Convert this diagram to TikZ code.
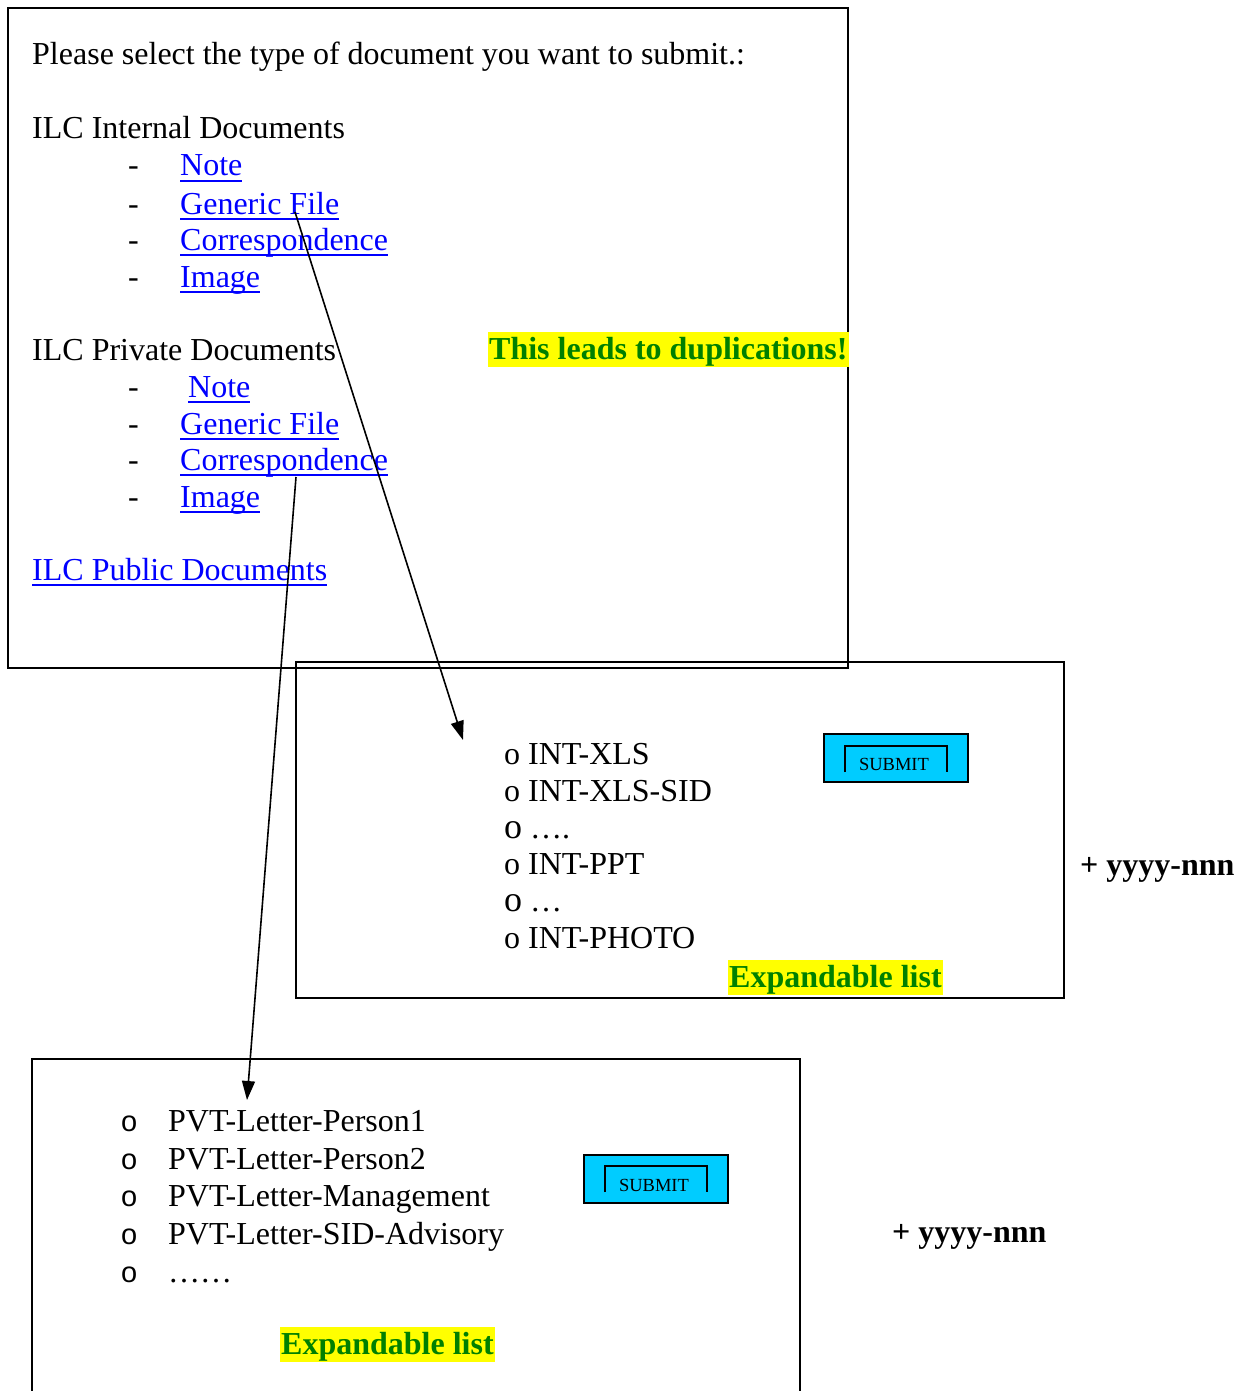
\documentclass[tikz,border=0pt]{standalone}
\usepackage{fontspec}
\setmainfont{Liberation Serif}
\newfontfamily\bulletfont{Liberation Sans}
\usepackage{tikz}
\usetikzlibrary{arrows.meta}
\tikzset{>={Triangle[width=13pt,length=19pt]}}
\definecolor{lnkblue}{RGB}{0,0,255}
\definecolor{hlgreen}{RGB}{0,128,0}
\definecolor{hlyellow}{RGB}{255,255,0}
\definecolor{btncyan}{RGB}{0,204,255}
\newcommand{\lnk}[1]{\setbox0\hbox{#1}\rlap{\rule[-6pt]{\wd0}{2pt}}\box0}

\begin{document}
\begin{tikzpicture}[x=1pt, y=-1pt]
      \tikzstyle{txt} = [anchor=base west, inner sep=0pt, yshift=-2pt, font=\fontsize{32}{37}\selectfont]
      \tikzstyle{link} = [txt, text=lnkblue]
      \tikzstyle{note} = [txt, font=\fontsize{32}{37}\selectfont\bfseries, text=hlgreen, fill=hlyellow,
      text height=27pt, text depth=8pt, inner xsep=1pt]
      \tikzstyle{panel} = [draw=black, line width=2pt]
      \tikzstyle{btn} = [draw=black, line width=2pt, fill=btncyan]
      \tikzstyle{btntxt} = [anchor=base, inner sep=0pt, font=\fontsize{18.5}{20}\selectfont]
      \tikzstyle{bul} = [anchor=base west, inner sep=0pt, yshift=-2pt, font=\fontsize{29}{37}\bulletfont]

      \useasboundingbox (0,0) rectangle (1243,1391);

      % selection page
      \draw[panel] (8,8) rectangle (848,668);
      \node[txt] (ask) at (32,63) {Please select the type of document you want to submit.:};

      \node[txt] (int) at (32,137) {ILC Internal Documents};
      \node[txt] (id1) at (128,174) {-};
      \node[txt] (id2) at (128,212) {-};
      \node[txt] (id3) at (128,248) {-};
      \node[txt] (id4) at (128,285) {-};
      \node[link] (inote) at (180,174) {\lnk{Note}};
      \node[link] (igen) at (180,212) {\lnk{Generic File}};
      \node[link] (icor) at (180,248) {\lnk{Correspondence}};
      \node[link] (iimg) at (180,285) {\lnk{Image}};

      \node[txt] (pvt) at (32,358) {ILC Private Documents};
      \node[txt] (pd1) at (128,395) {-};
      \node[txt] (pd2) at (128,432) {-};
      \node[txt] (pd3) at (128,468) {-};
      \node[txt] (pd4) at (128,505) {-};
      \node[link] (pnote) at (188,395) {\lnk{Note}};
      \node[link] (pgen) at (180,432) {\lnk{Generic File}};
      \node[link] (pcor) at (180,468) {\lnk{Correspondence}};
      \node[link] (pimg) at (180,505) {\lnk{Image}};

      \node[link] (pub) at (32,578) {\lnk{ILC Public Documents}};

      \node[note] (dup) at (488,357) {This leads to duplications!};

      % internal list
      \draw[panel] (296,662) rectangle (1064,998);
      \node[txt] (x1) at (504,762) {o INT-XLS};
      \node[txt] (x2) at (504,799) {o INT-XLS-SID};
      \node[txt] (x3) at (504,836) {{\fontsize{36}{37}\selectfont o} ….};
      \node[txt] (x4) at (504,872) {o INT-PPT};
      \node[txt] (x5) at (504,909) {{\fontsize{36}{37}\selectfont o} …};
      \node[txt] (x6) at (504,946) {o INT-PHOTO};
      \draw[btn] (824,734) rectangle (968,782);
      \draw[line width=1.5pt] (845,772) -- (845,746) -- (947,746) -- (947,772);
      \node[btntxt] (isub) at (894,770) {SUBMIT};
      \node[note] (iexp) at (728,985) {Expandable list};
      \node[txt, font=\fontsize{32}{37}\selectfont\bfseries] (iyn) at (1080,873) {+ yyyy-nnn};

      % private list
      \draw[panel] (32,1391) -- (32,1059) -- (800,1059) -- (800,1391);
      \node[bul] (b1) at (121,1129) {o};
      \node[bul] (b2) at (121,1167) {o};
      \node[bul] (b3) at (121,1204) {o};
      \node[bul] (b4) at (121,1242) {o};
      \node[bul] (b5) at (121,1280) {o};
      \node[txt] (v1) at (168,1129) {PVT-Letter-Person1};
      \node[txt] (v2) at (168,1167) {PVT-Letter-Person2};
      \node[txt] (v3) at (168,1204) {PVT-Letter-Management};
      \node[txt] (v4) at (168,1242) {PVT-Letter-SID-Advisory};
      \node[txt] (v5) at (168,1280) {……};
      \draw[btn] (584,1155) rectangle (728,1203);
      \draw[line width=1.5pt] (605,1192) -- (605,1166) -- (707,1166) -- (707,1192);
      \node[btntxt] (psub) at (654,1191) {SUBMIT};
      \node[note] (pexp) at (280,1352) {Expandable list};
      \node[txt, font=\fontsize{32}{37}\selectfont\bfseries] (pyn) at (892,1240) {+ yyyy-nnn};

      % arrows
      \coordinate (fromint) at (295,212);
      \coordinate (toint) at (463,740);
      \coordinate (frompvt) at (296,477);
      \coordinate (topvt) at (247,1100);
      \draw[->, line width=1.6pt] (fromint) -- (toint);
      \draw[->, line width=1.6pt] (frompvt) -- (topvt);
\end{tikzpicture}
\end{document}
